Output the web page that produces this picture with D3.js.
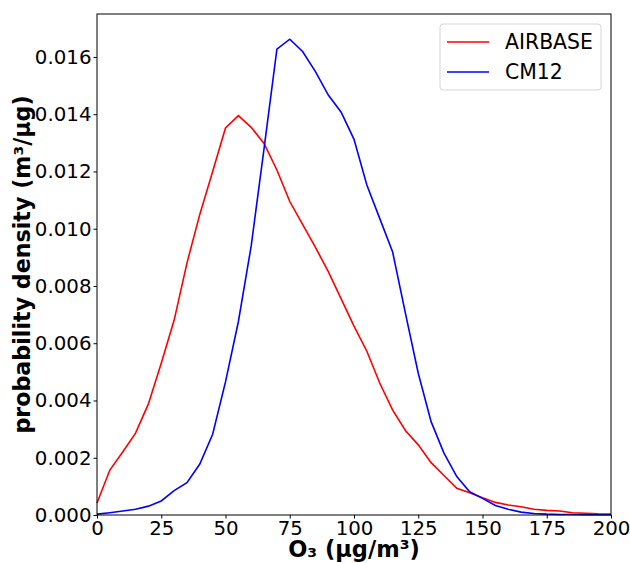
<!DOCTYPE html>
<html>
<head>
<meta charset="utf-8">
<script src="https://cdn.jsdelivr.net/npm/d3@7"></script>
<style>
  body { margin: 0; background: #fff; }
  svg { font-family: "DejaVu Sans", sans-serif; }
</style>
</head>
<body>
<svg id="chart"></svg>
<script>
const WIDTH = 630
const HEIGHT = 563
const MARGIN = {top: 14, left: 97, right: 19, bottom: 48}

// O3 concentration bins (µg/m³)
const o3 = d3.range(0, 201, 5)
const airbase = [0.00042, 0.00157, 0.00220, 0.00286, 0.00388, 0.00530, 0.00680, 0.00880, 0.01050, 0.01200,
  0.01352, 0.01395, 0.01354, 0.01298, 0.01205, 0.01095, 0.01015, 0.00935, 0.00850, 0.00755,
  0.00660, 0.00572, 0.00461, 0.00367, 0.00295, 0.00245, 0.00183, 0.00138, 0.00093, 0.00078,
  0.00060, 0.00044, 0.00035, 0.00029, 0.00020, 0.00016, 0.00014, 0.00008, 0.00006, 0.00004, 0.00003]
const cm12 = [0.00003, 0.00008, 0.00014, 0.00020, 0.00031, 0.00049, 0.00085, 0.00113, 0.00178, 0.00282,
  0.00465, 0.00675, 0.00940, 0.01280, 0.01627, 0.01662, 0.01619, 0.01549, 0.01467, 0.01407,
  0.01312, 0.01153, 0.01036, 0.00920, 0.00705, 0.00495, 0.00326, 0.00216, 0.00134, 0.00081,
  0.00058, 0.00033, 0.00020, 0.00010, 0.00005, 0.00003, 0.00002, 0.00002, 0.00001, 0.00001, 0.00001]
const xTicks = [0, 25, 50, 75, 100, 125, 150, 175, 200]
const yTicks = [0, 0.002, 0.004, 0.006, 0.008, 0.010, 0.012, 0.014, 0.016]
const seriesNames = ["AIRBASE", "CM12"]
const seriesColors = ["#ff0000", "#0000ff"]

const svg = d3.select("#chart").attr("width", WIDTH).attr("height", HEIGHT)
const w = WIDTH - MARGIN.left - MARGIN.right
const h = HEIGHT - MARGIN.top - MARGIN.bottom

const x = d3.scaleLinear().domain([0, 200]).range([0, w])
const y = d3.scaleLinear().domain([0, 0.0175]).range([h, 0])

const g = svg.append("g").attr("transform", `translate(${MARGIN.left},${MARGIN.top})`)

// lines
const series = [airbase, cm12]
const line = d3.line().x((d, i) => x(o3[i])).y(d => y(d))
series.forEach((s, k) => {
    g.append("path")
        .datum(s)
        .attr("fill", "none")
        .attr("stroke", seriesColors[k])
        .attr("stroke-width", 1.6)
        .attr("d", line)
})

// axes
const xAxis = g.append("g")
    .attr("transform", `translate(0,${h})`)
    .call(d3.axisBottom(x).tickValues(xTicks).tickSize(3.5).tickPadding(2).tickFormat(d3.format("d")))
const yAxis = g.append("g")
    .call(d3.axisLeft(y).tickValues(yTicks).tickSize(3.5).tickPadding(2).tickFormat(d3.format(".3f")))
;[xAxis, yAxis].forEach(a => {
    a.selectAll("text").attr("font-size", 19.8).attr("font-family", "DejaVu Sans").attr("fill", "#000")
    a.selectAll("line").attr("stroke", "#000")
    a.select(".domain").remove()
})
xAxis.selectAll("text").attr("dy", "0.75em")

// frame
g.append("rect").attr("width", w).attr("height", h)
    .attr("fill", "none").attr("stroke", "#000").attr("stroke-width", 1)

// axis labels
svg.append("text")
    .attr("x", MARGIN.left + w / 2).attr("y", 557)
    .attr("text-anchor", "middle")
    .attr("font-size", 22.5).attr("font-weight", "bold")
    .text("O₃ (µg/m³)")
svg.append("text")
    .attr("transform", `translate(30,${MARGIN.top + h / 2}) rotate(-90)`)
    .attr("text-anchor", "middle")
    .attr("font-size", 22.2).attr("font-weight", "bold")
    .text("probability density (m³/µg)")

// legend
const lg = svg.append("g").attr("transform", "translate(440,24)")
lg.append("rect").attr("width", 161).attr("height", 66).attr("rx", 3)
    .attr("fill", "#fff").attr("stroke", "#d6d6d6")
seriesNames.forEach((n, k) => {
    const yy = 18 + k * 30
    lg.append("line").attr("x1", 7).attr("x2", 49).attr("y1", yy).attr("y2", yy)
        .attr("stroke", seriesColors[k]).attr("stroke-width", 1.6)
    lg.append("text").attr("x", 65).attr("y", yy).attr("dy", "0.35em")
        .attr("font-size", 20.4).text(n)
})
</script>
</body>
</html>
